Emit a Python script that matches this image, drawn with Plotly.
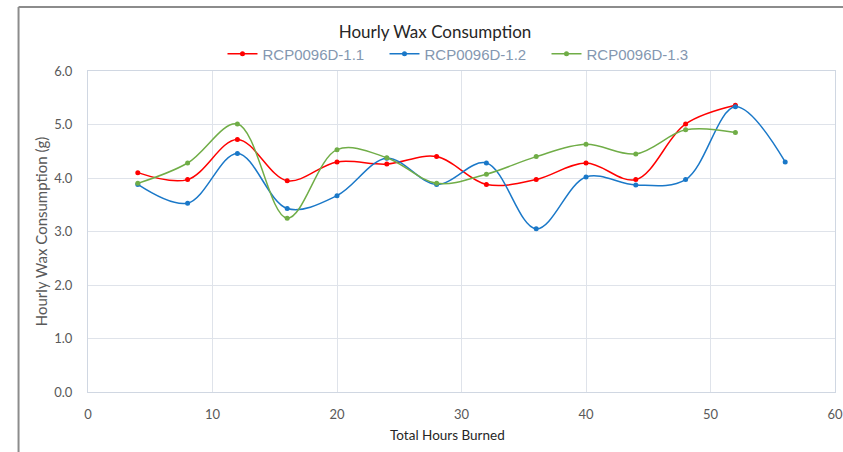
import plotly.graph_objects as go

hours = [4, 8, 12, 16, 20, 24, 28, 32, 36, 40, 44, 48, 52, 56]
s11 = [4.10, 3.97, 4.72, 3.95, 4.30, 4.26, 4.40, 3.88, 3.97, 4.28, 3.97, 5.01, 5.36]
s12 = [3.88, 3.53, 4.46, 3.43, 3.67, 4.37, 3.88, 4.28, 3.05, 4.02, 3.87, 3.97, 5.33, 4.30]
s13 = [3.90, 4.28, 5.01, 3.25, 4.53, 4.38, 3.90, 4.07, 4.40, 4.63, 4.45, 4.90, 4.85]
names = ["RCP0096D-1.1", "RCP0096D-1.2", "RCP0096D-1.3"]
colors = ["#ff0000", "#1a78c8", "#70ad47"]

fig = go.Figure()
for name, vals, c in zip(names, [s11, s12, s13], colors):
    fig.add_trace(go.Scatter(
        x=hours[:len(vals)], y=vals, name=name, mode="lines+markers",
        line=dict(color=c, width=1.5, shape="spline", smoothing=1.0),
        marker=dict(color=c, size=5),
    ))

grid = "#dfe3ea"
PW, PH = 747.5, 321
fig.update_layout(
    width=843, height=452,
    margin=dict(l=87.5, r=8, t=71, b=60, autoexpand=False),
    paper_bgcolor="white", plot_bgcolor="white",
    font=dict(family="Lato, Open Sans, sans-serif", color="#595959"),
    title=dict(text="Hourly Wax Consumption", x=435 / 843, xanchor="center",
               y=1 - 32 / 452, yanchor="middle",
               font=dict(size=17, color="#262626", family="Lato, sans-serif")),
    legend=dict(orientation="h", x=0.5 + 4 / PW, xanchor="center", y=1 + (71 - 54) / PH,
                yanchor="middle", font=dict(size=15, color="#8497b0",
                family="Liberation Sans, Arial, sans-serif"),
                bgcolor="rgba(0,0,0,0)", entrywidth=117, tracegroupgap=0),
    showlegend=True,
    xaxis=dict(range=[0, 60], dtick=10, showgrid=True, gridcolor=grid, gridwidth=1,
               zeroline=False, showline=True, linecolor="#d0d7e2", mirror=True,
               ticks="", ticklabelstandoff=10, automargin=False,
               tickfont=dict(size=13, color="#595959")),
    yaxis=dict(range=[0, 6], dtick=1, tickformat=".1f", showgrid=True, gridcolor=grid,
               gridwidth=1, zeroline=False, showline=True, linecolor="#d0d7e2",
               mirror=True, ticks="", ticklabelstandoff=12, automargin=False,
               tickfont=dict(size=13, color="#595959"),
               title=dict(text="Hourly Wax Consumption (g)", standoff=2,
                          font=dict(size=15, color="#595959"))),
    annotations=[dict(text="Total Hours Burned", xref="paper", yref="paper",
                      x=(447 - 87.5) / PW, y=-(435 - 392) / PH, xanchor="center",
                      yanchor="middle", showarrow=False,
                      font=dict(size=13.5, color="#262626"))],
    shapes=[
        dict(type="line", xref="paper", yref="paper",
             x0=(18 - 87.5) / PW, x1=1.2, y0=1 + (71 - 7) / PH, y1=1 + (71 - 7) / PH,
             line=dict(color="#8c8c8c", width=2), layer="above"),
        dict(type="line", xref="paper", yref="paper",
             x0=(18 - 87.5) / PW, x1=(18 - 87.5) / PW, y0=-0.5, y1=1 + (71 - 7) / PH,
             line=dict(color="#8c8c8c", width=2), layer="above"),
    ],
)

fig.write_html("out.html", post_script="document.body.style.margin='0';",
               config={"displayModeBar": False})
